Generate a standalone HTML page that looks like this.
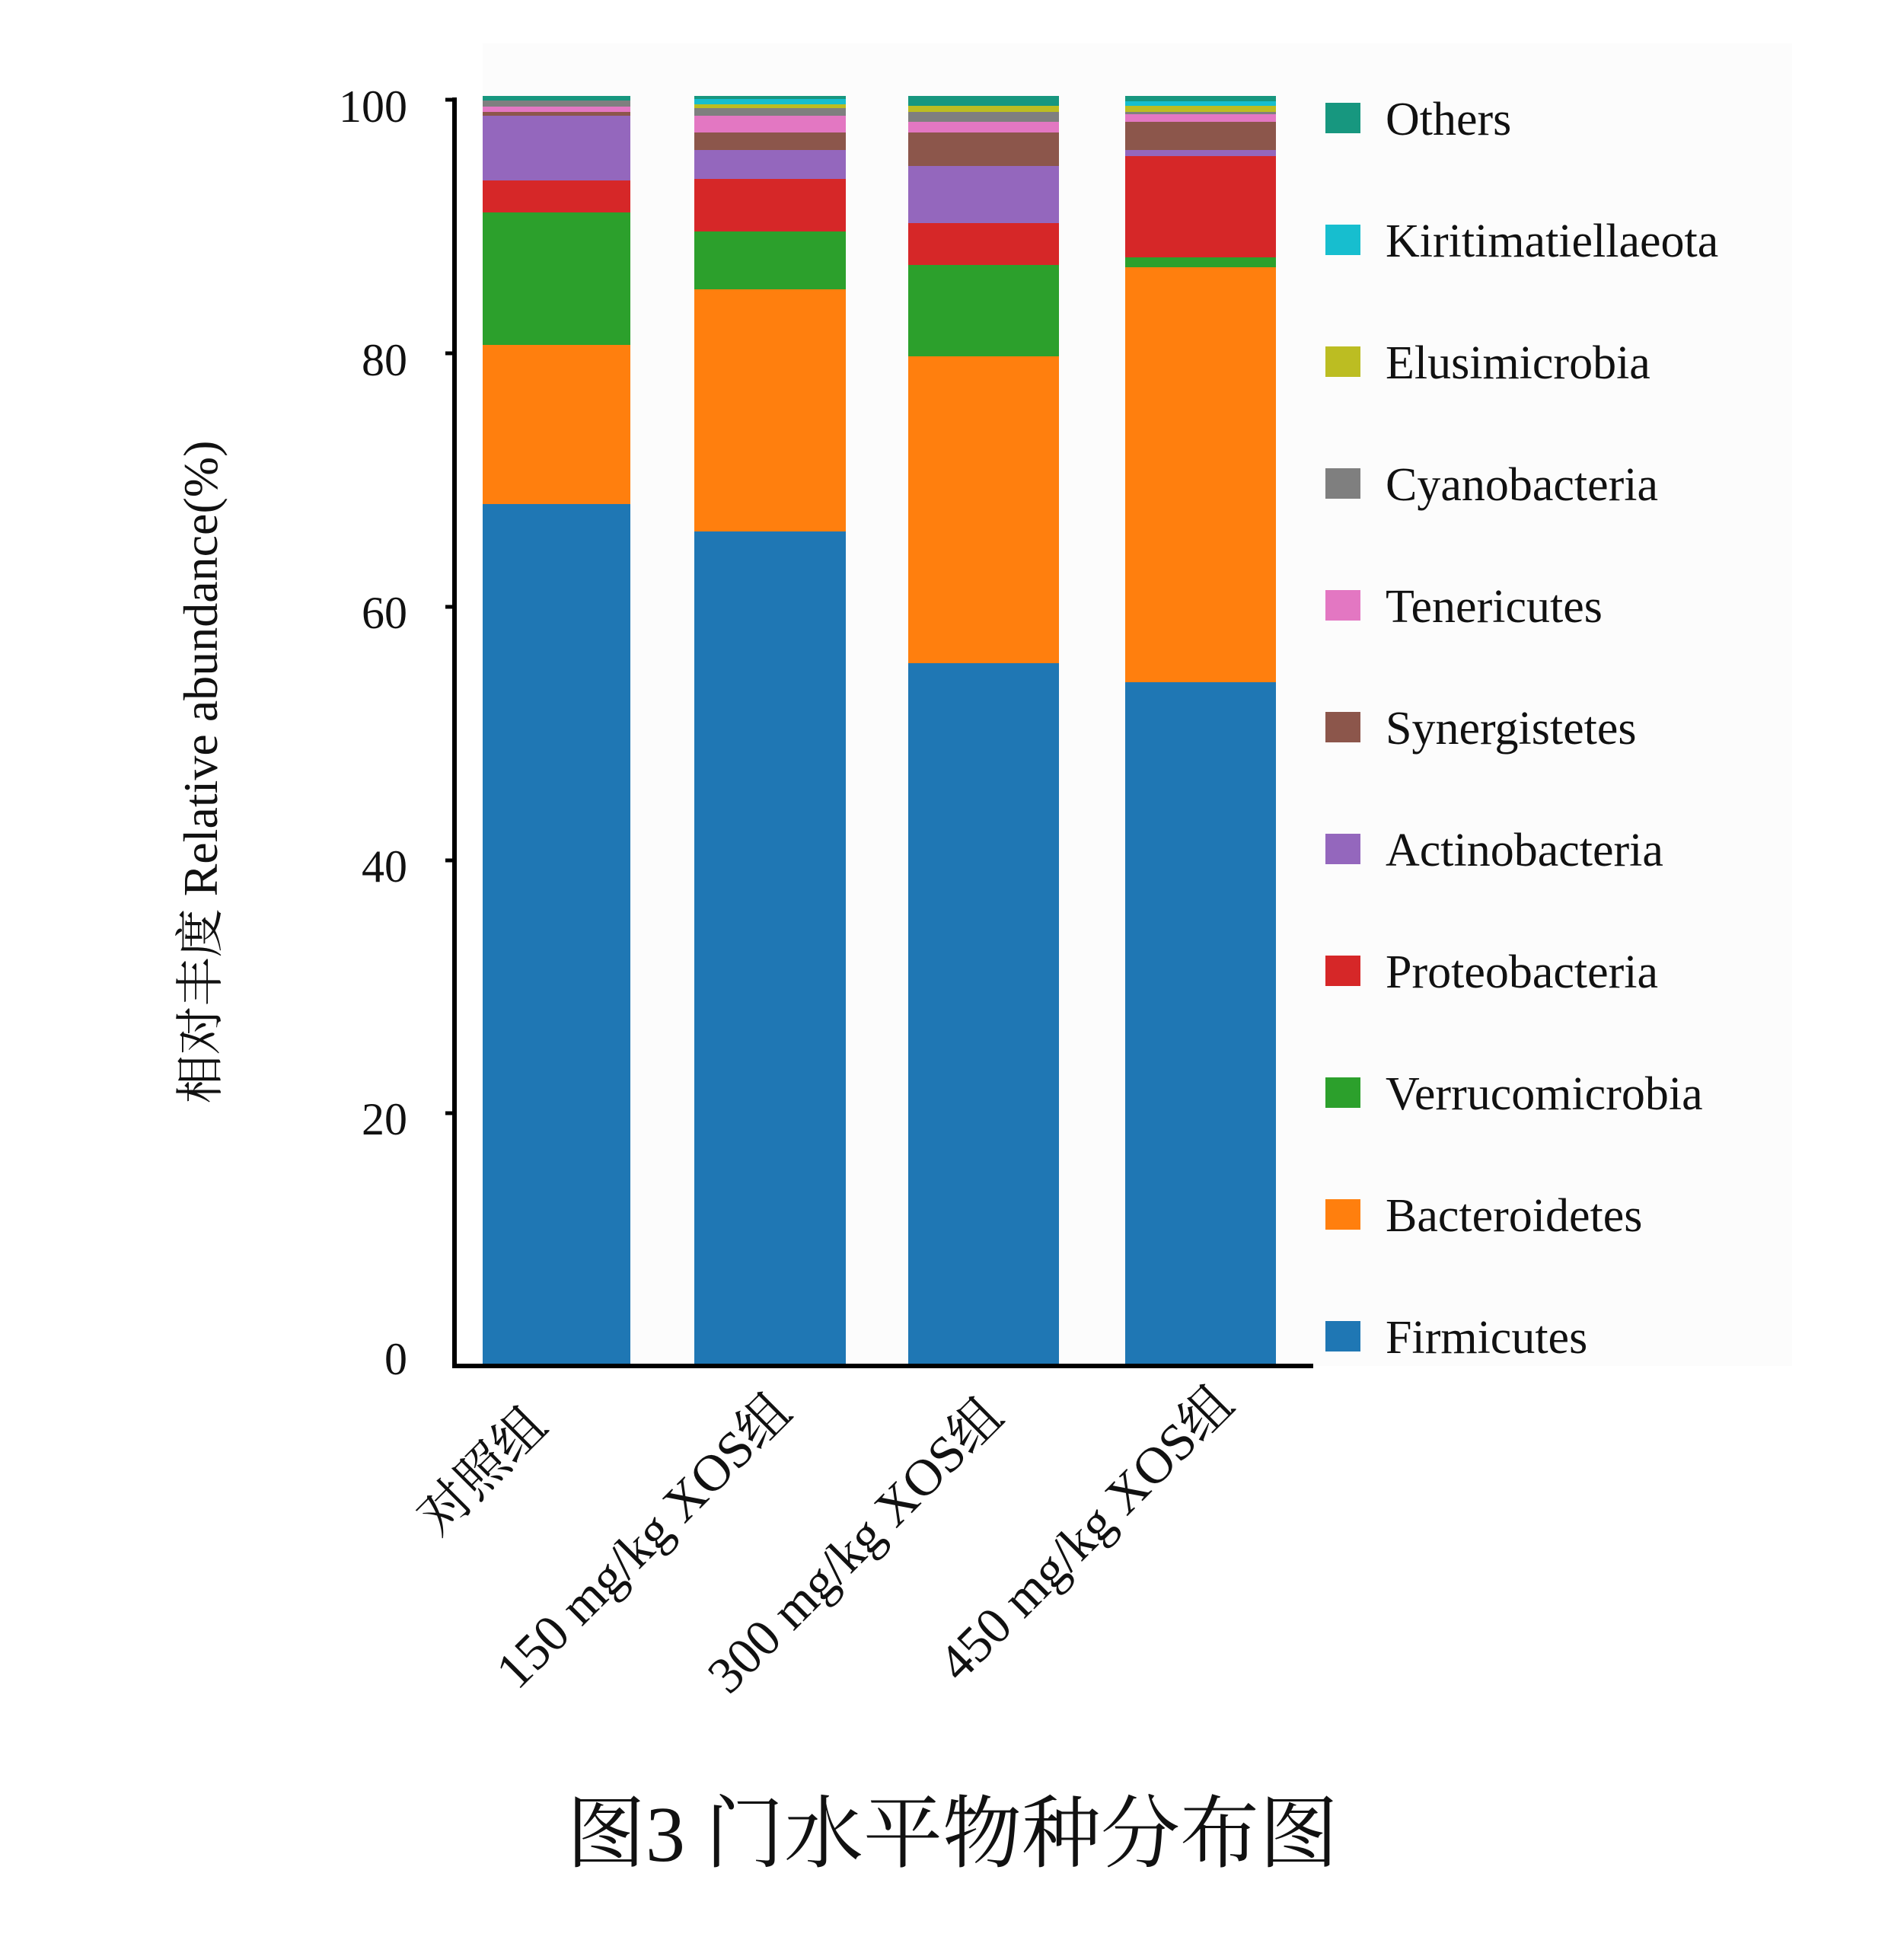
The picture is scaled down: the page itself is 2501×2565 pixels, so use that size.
<!DOCTYPE html>
<html><head><meta charset="utf-8"><style>
html,body{margin:0;padding:0;background:#fff;}
svg{display:block;}
text{font-family:"Liberation Serif","Noto Serif CJK SC",serif;fill:#111;}
</style></head><body>
<svg width="2501" height="2565" viewBox="0 0 2501 2565" xmlns="http://www.w3.org/2000/svg">
<rect x="634" y="57" width="1720" height="1737" fill="#fcfcfc"/>
<!-- bar1 -->
<g>
<rect x="634" y="662" width="194" height="1132" fill="#1f77b4"/>
<rect x="634" y="453" width="194" height="209" fill="#ff7f0e"/>
<rect x="634" y="279" width="194" height="174" fill="#2ca02c"/>
<rect x="634" y="237" width="194" height="42" fill="#d62728"/>
<rect x="634" y="152" width="194" height="85" fill="#9467bd"/>
<rect x="634" y="147" width="194" height="5" fill="#8c564b"/>
<rect x="634" y="140" width="194" height="7" fill="#e377c2"/>
<rect x="634" y="132" width="194" height="8" fill="#7f7f7f"/>
<rect x="634" y="126" width="194" height="6" fill="#17977f"/>
</g>
<!-- bar2 -->
<g>
<rect x="912" y="698" width="199" height="1096" fill="#1f77b4"/>
<rect x="912" y="380" width="199" height="318" fill="#ff7f0e"/>
<rect x="912" y="304" width="199" height="76" fill="#2ca02c"/>
<rect x="912" y="235" width="199" height="69" fill="#d62728"/>
<rect x="912" y="197" width="199" height="38" fill="#9467bd"/>
<rect x="912" y="174" width="199" height="23" fill="#8c564b"/>
<rect x="912" y="152" width="199" height="22" fill="#e377c2"/>
<rect x="912" y="142" width="199" height="10" fill="#7f7f7f"/>
<rect x="912" y="137" width="199" height="5" fill="#bcbd22"/>
<rect x="912" y="130" width="199" height="7" fill="#17becf"/>
<rect x="912" y="126" width="199" height="4" fill="#17977f"/>
</g>
<!-- bar3 -->
<g>
<rect x="1193" y="871" width="198" height="923" fill="#1f77b4"/>
<rect x="1193" y="468" width="198" height="403" fill="#ff7f0e"/>
<rect x="1193" y="348" width="198" height="120" fill="#2ca02c"/>
<rect x="1193" y="293" width="198" height="55" fill="#d62728"/>
<rect x="1193" y="218" width="198" height="75" fill="#9467bd"/>
<rect x="1193" y="174" width="198" height="44" fill="#8c564b"/>
<rect x="1193" y="160" width="198" height="14" fill="#e377c2"/>
<rect x="1193" y="147" width="198" height="13" fill="#7f7f7f"/>
<rect x="1193" y="139" width="198" height="8" fill="#bcbd22"/>
<rect x="1193" y="126" width="198" height="13" fill="#17977f"/>
</g>
<!-- bar4 -->
<g>
<rect x="1478" y="896" width="198" height="898" fill="#1f77b4"/>
<rect x="1478" y="351" width="198" height="545" fill="#ff7f0e"/>
<rect x="1478" y="338" width="198" height="13" fill="#2ca02c"/>
<rect x="1478" y="205" width="198" height="133" fill="#d62728"/>
<rect x="1478" y="197" width="198" height="8" fill="#9467bd"/>
<rect x="1478" y="160" width="198" height="37" fill="#8c564b"/>
<rect x="1478" y="150" width="198" height="10" fill="#e377c2"/>
<rect x="1478" y="147" width="198" height="3" fill="#7f7f7f"/>
<rect x="1478" y="139" width="198" height="8" fill="#bcbd22"/>
<rect x="1478" y="133" width="198" height="6" fill="#17becf"/>
<rect x="1478" y="126" width="198" height="7" fill="#17977f"/>
</g>
<!-- axes -->
<line x1="597" y1="128" x2="597" y2="1796" stroke="#000" stroke-width="6"/>
<line x1="594" y1="1794" x2="1725" y2="1794" stroke="#000" stroke-width="6"/>
<g stroke="#000" stroke-width="5">
<line x1="585" y1="131" x2="597" y2="131"/>
<line x1="585" y1="464" x2="597" y2="464"/>
<line x1="585" y1="797" x2="597" y2="797"/>
<line x1="585" y1="1130" x2="597" y2="1130"/>
<line x1="585" y1="1462" x2="597" y2="1462"/>
</g>
<g font-size="60" text-anchor="end">
<text x="535" y="160">100</text>
<text x="535" y="493">80</text>
<text x="535" y="825">60</text>
<text x="535" y="1158">40</text>
<text x="535" y="1490">20</text>
<text x="535" y="1805">0</text>
</g>
<text transform="translate(285,1014) rotate(-90)" font-size="64" text-anchor="middle">相对丰度  Relative abundance(%)</text>
<g font-size="68" text-anchor="end">
<text transform="translate(722,1876) rotate(-45)">对照组</text>
<text transform="translate(1043,1858) rotate(-45)">150 mg/kg XOS组</text>
<text transform="translate(1321,1864) rotate(-45)">300 mg/kg XOS组</text>
<text transform="translate(1624,1848) rotate(-45)">450 mg/kg XOS组</text>
</g>
<g font-size="62">
<rect x="1741" y="135" width="46" height="40" fill="#17977f"/><text x="1820" y="177">Others</text>
<rect x="1741" y="295" width="46" height="40" fill="#17becf"/><text x="1820" y="337">Kiritimatiellaeota</text>
<rect x="1741" y="455" width="46" height="40" fill="#bcbd22"/><text x="1820" y="497">Elusimicrobia</text>
<rect x="1741" y="615" width="46" height="40" fill="#7f7f7f"/><text x="1820" y="657">Cyanobacteria</text>
<rect x="1741" y="775" width="46" height="40" fill="#e377c2"/><text x="1820" y="817">Tenericutes</text>
<rect x="1741" y="935" width="46" height="40" fill="#8c564b"/><text x="1820" y="977">Synergistetes</text>
<rect x="1741" y="1095" width="46" height="40" fill="#9467bd"/><text x="1820" y="1137">Actinobacteria</text>
<rect x="1741" y="1255" width="46" height="40" fill="#d62728"/><text x="1820" y="1297">Proteobacteria</text>
<rect x="1741" y="1415" width="46" height="40" fill="#2ca02c"/><text x="1820" y="1457">Verrucomicrobia</text>
<rect x="1741" y="1575" width="46" height="40" fill="#ff7f0e"/><text x="1820" y="1617">Bacteroidetes</text>
<rect x="1741" y="1735" width="46" height="40" fill="#1f77b4"/><text x="1820" y="1777">Firmicutes</text>
</g>
<text x="1251" y="2444" font-size="104" text-anchor="middle">图3 门水平物种分布图</text>
</svg>
</body></html>
